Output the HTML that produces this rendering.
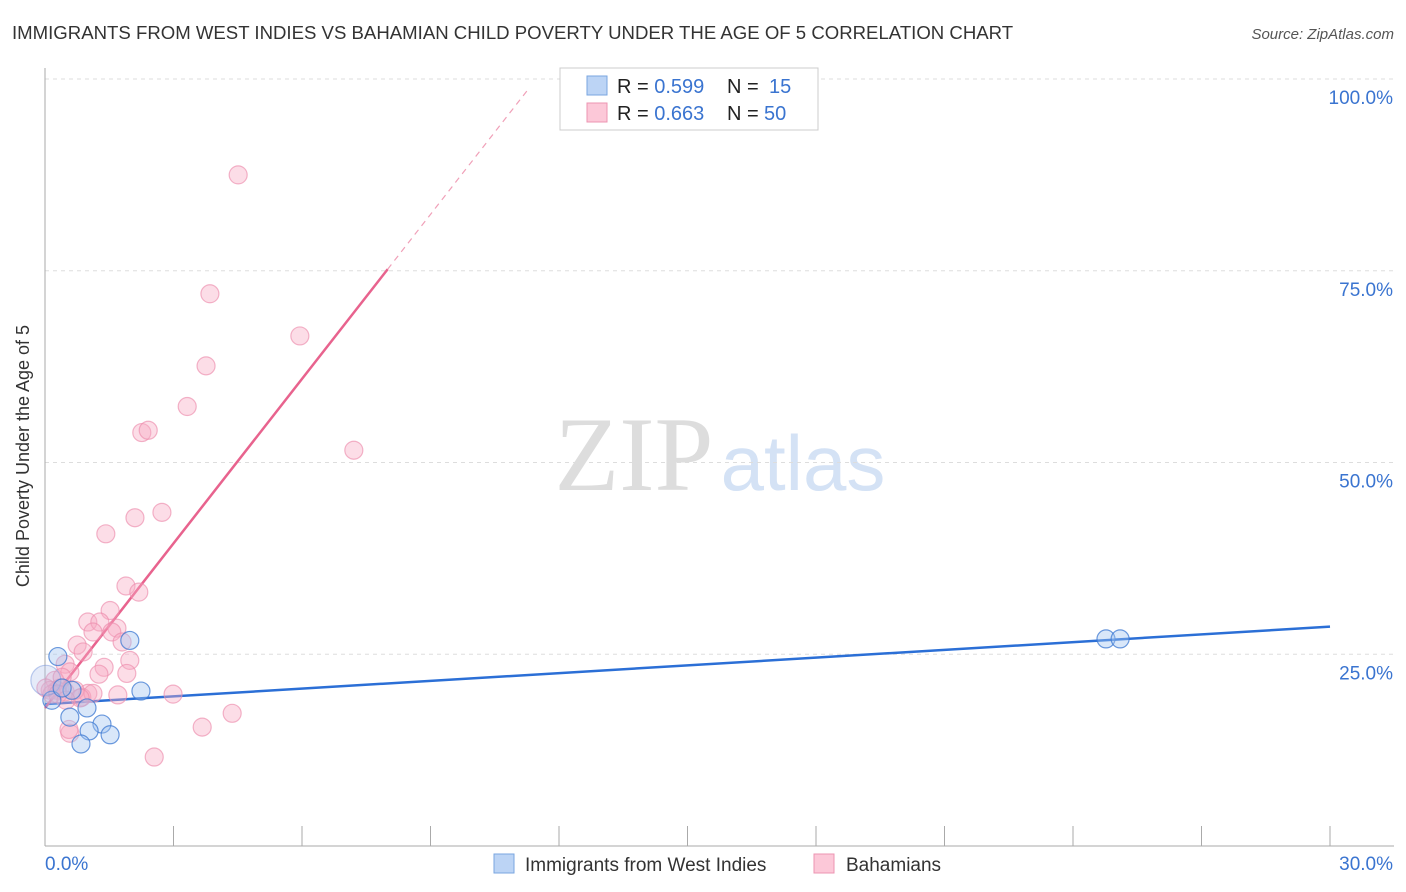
<!DOCTYPE html>
<html><head><meta charset="utf-8">
<style>
body{margin:0;background:#fff;font-family:"Liberation Sans",sans-serif;}
svg{display:block}
</style></head>
<body>
<svg id="chart" width="1406" height="892" xmlns="http://www.w3.org/2000/svg">
<text x="12" y="39" font-size="18.6" fill="#333">IMMIGRANTS FROM WEST INDIES VS BAHAMIAN CHILD POVERTY UNDER THE AGE OF 5 CORRELATION CHART</text>
<text x="1394" y="39" font-size="15" fill="#555" font-style="italic" text-anchor="end">Source: ZipAtlas.com</text>
<text x="29" y="456" font-size="18" fill="#333" text-anchor="middle" transform="rotate(-90 29 456)">Child Poverty Under the Age of 5</text>
<g>
<text x="634" y="490" font-size="106" fill="#ddd" font-family="Liberation Serif,serif" text-anchor="middle">ZIP</text>
<text x="803" y="490" font-size="78" fill="#d4e2f5" text-anchor="middle">atlas</text>
</g>
<g id="grid"></g>
<g id="axes"></g>
<g id="lines"></g>
<g id="points"></g>
<g>
<rect x="560" y="68" width="258" height="62" fill="#fff" stroke="#ccc"/>
<rect x="587" y="76" width="20" height="19" fill="#bcd4f5" stroke="#7aa6e0"/>
<rect x="587" y="103" width="20" height="19" fill="#fcc8d8" stroke="#ec94b2"/>
<text x="617" y="93" font-size="20" fill="#222">R = <tspan fill="#3a74d0">0.599</tspan><tspan x="727">N = </tspan><tspan x="769" fill="#3a74d0">15</tspan></text>
<text x="617" y="120" font-size="20" fill="#222">R = <tspan fill="#3a74d0">0.663</tspan><tspan x="727">N = </tspan><tspan x="764" fill="#3a74d0">50</tspan></text>
</g>
<g>
<rect x="494" y="854" width="20" height="19" fill="#bcd4f5" stroke="#7aa6e0"/>
<text x="525" y="871" font-size="19" fill="#333">Immigrants from West Indies</text>
<rect x="814" y="854" width="20" height="19" fill="#fcc8d8" stroke="#ec94b2"/>
<text x="846" y="871" font-size="19" fill="#333">Bahamians</text>
</g>
</svg>
<script>
const yTicks=[25,50,75,100];
const yTickLabels=["25.0%","50.0%","75.0%","100.0%"];
const xTicks=[0,3,6,9,12,15,18,21,24,27,30];
const blueX=[1.98,2.24,24.77,25.10,0.30,0.63,0.16,0.58,0.98,1.33,1.03,1.52,0.84,0.02,0.40];
const blueY=[26.8,20.2,27.0,27.0,24.7,20.3,19.0,16.8,18.0,15.9,15.0,14.5,13.3,21.6,20.6];
const pinkX=[4.51,3.85,5.95,3.76,3.32,2.26,2.41,7.21,2.10,2.73,1.42,1.89,2.19,1.52,1.00,1.28,1.68,1.12,1.56,0.75,1.80,1.98,0.89,1.38,0.47,0.58,1.26,1.91,0.23,0.35,0.12,0.47,1.00,0.86,1.12,1.70,2.99,3.67,4.37,2.55,0.58,0.56,0.28,0.16,0.70,0.02,0.40,0.30,0.82,0.49];
const pinkY=[87.5,72.0,66.5,62.6,57.3,53.9,54.2,51.6,42.8,43.5,40.7,33.9,33.1,30.7,29.2,29.2,28.4,27.9,27.9,26.2,26.6,24.2,25.3,23.3,23.7,22.7,22.4,22.5,21.6,20.6,20.3,20.1,19.9,19.4,19.9,19.7,19.8,15.5,17.3,11.6,14.7,15.2,20.3,19.8,20.3,20.6,22.0,19.8,19.3,19.0];
const blueLine=[18.5,28.6];
const pinkLine=[18.0,7.15]; // intercept, slope
const pinkSolidEnd=8.0, pinkDashEnd=11.3;

const NS="http://www.w3.org/2000/svg";
const X0=45,X1=1330,Y0=846,Y100=79;
const sx=v=>X0+(X1-X0)*v/30;
const sy=v=>Y0-(Y0-Y100)*v/100;
function mk(tag,attrs,parent){const e=document.createElementNS(NS,tag);for(const k in attrs)e.setAttribute(k,attrs[k]);document.getElementById(parent).appendChild(e);return e;}

yTicks.forEach((t,i)=>{
  const g=mk('line',{x1:X0,x2:1394,y1:sy(t),y2:sy(t),stroke:'#ddd','stroke-dasharray':'4,4'},'grid');
  
  
  const l=mk('text',{x:1393,y:sy(t)+25,'font-size':19,fill:'#3a74d0','text-anchor':'end'},'axes');
  l.textContent=yTickLabels[i];
  
  
});
const ax=mk('line',{x1:X0,x2:X0,y1:68,y2:Y0,stroke:'#aaa'},'axes');


const bx=mk('line',{x1:X0,x2:1394,y1:Y0,y2:Y0,stroke:'#aaa'},'axes');


xTicks.forEach(t=>{
  const k=mk('line',{x1:sx(t),x2:sx(t),y1:826,y2:Y0,stroke:'#aaa'},'axes');
  
  
});
const xl0=mk('text',{x:45,y:870,'font-size':19,fill:'#3a74d0'},'axes');xl0.textContent='0.0%';


const xl1=mk('text',{x:1393,y:870,'font-size':19,fill:'#3a74d0','text-anchor':'end'},'axes');xl1.textContent='30.0%';



function dots(xs,ys,fill,stroke,name){xs.forEach((x,i)=>{
  const big=(name==='blue-point'&&i===13);
  const c=mk('circle',{cx:sx(x),cy:sy(ys[i]),r:big?15:9,fill:big?'rgba(170,190,235,0.3)':fill,stroke:big?'rgba(120,150,220,0.5)':stroke,'stroke-width':1.2},'points');
  
  
});}
dots(pinkX,pinkY,'rgba(248,170,196,0.4)','rgba(236,140,172,0.65)','pink-point');
dots(blueX,blueY,'rgba(160,195,240,0.4)','rgba(60,120,210,0.75)','blue-point');

const bl=mk('line',{x1:sx(0),y1:sy(blueLine[0]),x2:sx(30),y2:sy(blueLine[1]),stroke:'#2b6fd6','stroke-width':2.5},'lines');


const pl=mk('line',{x1:sx(0),y1:sy(pinkLine[0]),x2:sx(pinkSolidEnd),y2:sy(pinkLine[0]+pinkLine[1]*pinkSolidEnd),stroke:'#e8638e','stroke-width':2.5},'lines');


const pd=mk('line',{x1:sx(pinkSolidEnd),y1:sy(pinkLine[0]+pinkLine[1]*pinkSolidEnd),x2:sx(pinkDashEnd),y2:sy(pinkLine[0]+pinkLine[1]*pinkDashEnd),stroke:'#f0a0b8','stroke-width':1.2,'stroke-dasharray':'6,5'},'lines');


</script>
</body></html>
